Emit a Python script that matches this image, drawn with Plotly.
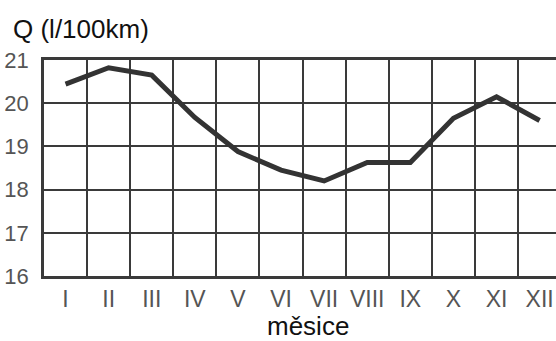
import plotly.graph_objects as go

months = ["I", "II", "III", "IV", "V", "VI", "VII", "VIII", "IX", "X", "XI", "XII"]
consumption = [20.44, 20.82, 20.65, 19.67, 18.88, 18.45, 18.2, 18.63, 18.63, 19.65, 20.15, 19.6]
y_ticks = [16, 17, 18, 19, 20, 21]
y_title = "Q (l/100km)"
x_title = "měsice"

x_idx = list(range(len(months)))

fig = go.Figure()
fig.add_trace(go.Scatter(
    x=x_idx, y=consumption, mode="lines",
    line=dict(color="#333333", width=5, shape="linear"),
    hoverinfo="skip", showlegend=False,
))

font_family = "Liberation Sans, Arial, sans-serif"

fig.update_layout(
    width=556, height=341,
    margin=dict(l=44, r=0, t=60, b=65),
    paper_bgcolor="white", plot_bgcolor="white",
    font=dict(family=font_family),
    xaxis=dict(
        range=[-0.5, 11.38],
        tickvals=x_idx, ticktext=months,
        showgrid=False, zeroline=False, automargin=False,
        showline=True, linecolor="#3a3a3a", linewidth=2.5, mirror=True,
        ticks="", ticklabelstandoff=1,
        tickfont=dict(size=23, color="#555555", family=font_family),
        minor=dict(tick0=-0.5, dtick=1, showgrid=True, gridcolor="#3a3a3a", gridwidth=2),
    ),
    yaxis=dict(
        range=[16, 21],
        tickvals=y_ticks,
        showgrid=True, gridcolor="#3a3a3a", gridwidth=2,
        zeroline=False, automargin=False,
        showline=True, linecolor="#3a3a3a", linewidth=2.5, mirror=False,
        ticks="", ticklabelstandoff=8,
        tickfont=dict(size=22, color="#555555", family=font_family),
    ),
    annotations=[
        dict(text=y_title, xref="paper", yref="paper", x=0, y=1,
             xanchor="left", yanchor="middle", xshift=-33, yshift=31,
             showarrow=False, font=dict(size=26, color="#111111", family=font_family)),
        dict(text=x_title, xref="paper", yref="paper", x=0.516, y=0,
             xanchor="center", yanchor="middle", yshift=-50,
             showarrow=False, font=dict(size=26, color="#111111", family=font_family)),
    ],
)

fig.write_html(
    "out.html",
    config={"displayModeBar": False},
    post_script="document.body.style.margin='0';document.body.style.overflow='hidden';",
)
